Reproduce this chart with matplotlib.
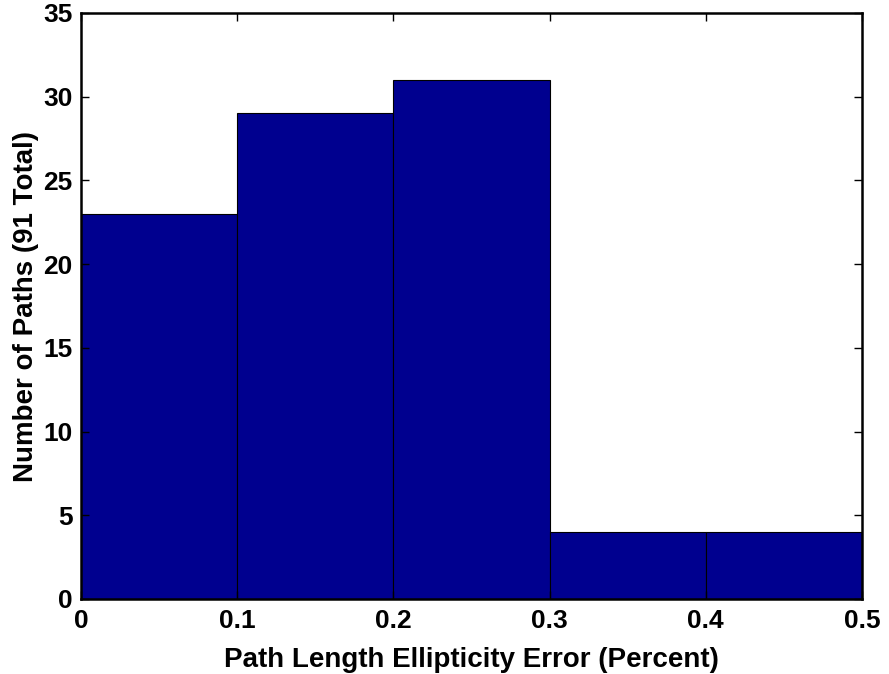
import numpy as np
import matplotlib.pyplot as plt

plt.rcParams['font.family'] = ['Liberation Sans', 'DejaVu Sans']
plt.rcParams['font.weight'] = 'bold'

# histogram bins (percent error) and path counts per bin
bin_edges = [0.0, 0.1, 0.2, 0.3, 0.4, 0.5]
counts = [23, 29, 31, 4, 4]
xticks = [0, 0.1, 0.2, 0.3, 0.4, 0.5]
xticklabels = ['0', '0.1', '0.2', '0.3', '0.4', '0.5']
yticks = [0, 5, 10, 15, 20, 25, 30, 35]

fig = plt.figure(figsize=(8.89, 6.74), dpi=100)
ax = fig.add_axes([81 / 889, 1 - 599 / 674, (862 - 81) / 889, (599 - 13) / 674])

left = np.array(bin_edges[:-1])
widths = np.diff(bin_edges)
ax.bar(left, counts, width=widths, align='edge', color='#00008f',
       edgecolor='black', linewidth=0.8)

ax.set_xlim(0, 0.5)
ax.set_ylim(0, 35)
ax.set_xticks(xticks)
ax.set_xticklabels(xticklabels)
ax.set_yticks(yticks)
ax.tick_params(direction='in', top=True, right=True, length=6, width=1,
               labelsize=19)
ax.tick_params(axis='x', pad=7)
ax.tick_params(axis='y', pad=6)
for s in ax.spines.values():
    s.set_linewidth(1.8)

ax.set_xlabel('Path Length Ellipticity Error (Percent)', fontsize=20,
              fontweight='bold', labelpad=10)
ax.set_ylabel('Number of Paths (91 Total)', fontsize=20,
              fontweight='bold', labelpad=3)

fig.savefig('out.png', dpi=100)
